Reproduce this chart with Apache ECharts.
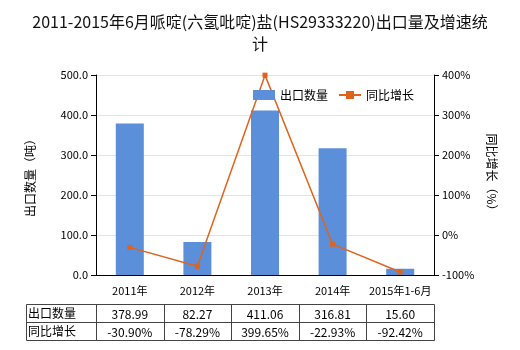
<!DOCTYPE html>
<html><head><meta charset="utf-8">
<script src="https://cdn.jsdelivr.net/npm/echarts@6/dist/echarts.min.js"></script>
<style>html,body{margin:0;padding:0;background:#fff}#c{width:520px;height:350px}</style>
</head><body><div id="c"></div>
<script>
var categories = ['2011年','2012年','2013年','2014年','2015年1-6月'];
var exportQty = [378.99, 82.27, 411.06, 316.81, 15.60];
var growth = [-30.90, -78.29, 399.65, -22.93, -92.42];
var qtyLabels = ['378.99','82.27','411.06','316.81','15.60'];
var growthLabels = ['-30.90%','-78.29%','399.65%','-22.93%','-92.42%'];
var rowNames = ['出口数量','同比增长'];

var font = '"Microsoft YaHei","Noto Sans CJK SC",sans-serif';
var gl = 96, gr = 86, gt = 75, gb = 75;
var W = 520, plotW = W - gl - gr, colW = plotW / categories.length;
var tTop = 304, rowH = 18;

var graphics = [];
var lineStyle = {stroke:'#444', lineWidth:1};
var tLeft = 26;
graphics.push({type:'rect', shape:{x:tLeft+0.5,y:tTop+0.5,width:gl+plotW-tLeft,height:rowH*2}, style:{fill:null,stroke:'#444',lineWidth:1}});
graphics.push({type:'line', shape:{x1:tLeft,y1:tTop+rowH+0.5,x2:gl+plotW,y2:tTop+rowH+0.5}, style:lineStyle});
for (var i=0;i<categories.length;i++){
  var x = Math.round(gl + colW*i)+0.5;
  graphics.push({type:'line', shape:{x1:x,y1:tTop,x2:x,y2:tTop+rowH*2}, style:lineStyle});
}
rowNames.forEach(function(n,r){
  graphics.push({type:'text', left:tLeft+2, top:tTop+r*rowH+3, style:{text:n, fill:'#000', font:'12px '+font}});
});
[qtyLabels, growthLabels].forEach(function(arr,r){
  arr.forEach(function(t,i){
    graphics.push({type:'text', x:gl+colW*(i+0.5), y:tTop+r*rowH+rowH/2+1, style:{text:t, fill:'#000', font:'12px '+font, align:'center', verticalAlign:'middle'}});
  });
});

var chart = echarts.init(document.getElementById('c'));
chart.setOption({
  animation:false,
  backgroundColor:'#fff',
  title:{text:'2011-2015年6月哌啶(六氢吡啶)盐(HS29333220)出口量及增速统\n计', left:'center', top:6,
    textStyle:{fontSize:16, fontWeight:'normal', color:'#111', fontFamily:font, lineHeight:22}},
  legend:{top:84, left:248, itemWidth:22, itemHeight:10, itemGap:10,
    textStyle:{fontSize:12, color:'#000', fontFamily:font},
    data:[{name:'出口数量', icon:'rect'},{name:'同比增长'}]},
  grid:{left:gl, right:gr, top:gt, bottom:gb},
  xAxis:{type:'category', data:categories,
    axisLine:{lineStyle:{color:'#000'}}, axisTick:{show:false},
    axisLabel:{interval:0, fontSize:11, color:'#000', fontFamily:font, margin:10}},
  yAxis:[
    {type:'value', min:0, max:500, interval:100, name:'出口数量（吨）', nameLocation:'middle', nameGap:60, nameRotate:90,
      nameTextStyle:{fontSize:12, color:'#000', fontFamily:font},
      axisLine:{show:true, lineStyle:{color:'#000'}}, axisTick:{show:true, length:5, lineStyle:{color:'#000'}},
      axisLabel:{fontSize:11, color:'#000', fontFamily:font, formatter:function(v){return v.toFixed(1);}},
      splitLine:{lineStyle:{color:'#e8e4da'}}},
    {type:'value', min:-100, max:400, interval:100, name:'同比增长（%）', nameLocation:'middle', nameGap:52, nameRotate:-90,
      nameTextStyle:{fontSize:12, color:'#000', fontFamily:font},
      axisLine:{show:true, lineStyle:{color:'#000'}}, axisTick:{show:true, length:5, lineStyle:{color:'#000'}},
      axisLabel:{fontSize:11, color:'#000', fontFamily:font, formatter:'{value}%'},
      splitLine:{show:false}}
  ],
  series:[
    {name:'出口数量', type:'bar', data:exportQty, barWidth:28, itemStyle:{color:'#5b8fd9'}},
    {name:'同比增长', type:'line', yAxisIndex:1, data:growth, symbol:'rect', symbolSize:5,
      lineStyle:{color:'#e0631c', width:1.5}, itemStyle:{color:'#e0631c'}}
  ],
  graphic:graphics
});
</script></body></html>
